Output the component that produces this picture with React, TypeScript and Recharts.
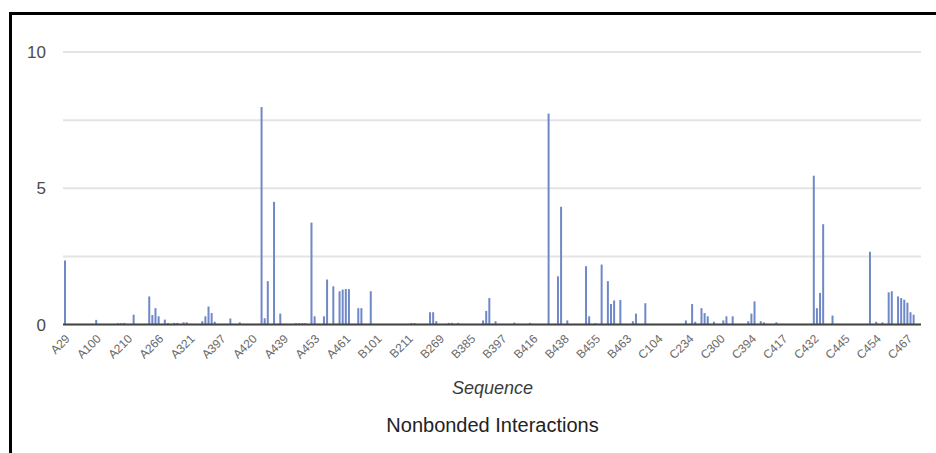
import React from "react";
import { BarChart, Bar, XAxis, YAxis, CartesianGrid } from "recharts";

// Sequence tick labels (one shown every 10 residues)
const tickLabels = [
  "A29", "A100", "A210", "A266", "A321", "A397", "A420", "A439", "A453", "A461",
  "B101", "B211", "B269", "B385", "B397", "B416", "B438", "B455", "B463",
  "C104", "C234", "C300", "C394", "C417", "C432", "C445", "C454", "C467",
];

// Nonbonded interaction counts per residue position
const chainA = [
  2.35, 0, 0, 0, 0, 0, 0, 0, 0, 0,
  0.17, 0, 0, 0, 0, 0, 0, 0.05, 0.05, 0.06,
  0, 0, 0.36, 0, 0, 0, 0, 1.03, 0.35, 0.6,
  0.3, 0, 0.18, 0.05, 0, 0.06, 0.06, 0, 0.08, 0.08,
  0, 0, 0, 0, 0.12, 0.3, 0.66, 0.42, 0.1, 0,
  0, 0, 0, 0.22, 0, 0, 0.08, 0, 0, 0,
  0, 0, 0, 7.98, 0.23, 1.59, 0, 4.5, 0, 0.4,
  0, 0, 0, 0, 0.05, 0.05, 0.05, 0.05, 0, 3.74,
  0.3, 0, 0, 0.3, 1.65, 0, 1.4, 0, 1.22, 1.28,
  1.3, 1.3, 0, 0, 0.6, 0.6, 0, 0, 1.22, 0,
];

const chainB = [
  0, 0, 0, 0, 0, 0, 0, 0, 0, 0,
  0, 0.05, 0.05, 0, 0, 0, 0, 0.45, 0.45, 0.12,
  0, 0, 0, 0.06, 0.06, 0, 0.06, 0, 0, 0,
  0, 0, 0, 0, 0.15, 0.5, 0.97, 0, 0.12, 0,
  0, 0, 0, 0, 0.07, 0, 0, 0, 0, 0.06,
  0, 0, 0, 0, 0, 7.74, 0, 0, 1.77, 4.32,
  0, 0.15, 0, 0, 0, 0, 0, 2.14, 0.3, 0,
  0.05, 0, 2.2, 0, 1.59, 0.75, 0.88, 0, 0.9, 0,
  0, 0, 0.12, 0.4, 0, 0, 0.78, 0, 0, 0,
];

const chainC = [
  0, 0, 0, 0, 0, 0, 0, 0, 0, 0.15,
  0, 0.75, 0.1, 0, 0.6, 0.42, 0.3, 0, 0.1, 0,
  0, 0.15, 0.3, 0, 0.3, 0, 0, 0, 0, 0.12,
  0.4, 0.85, 0, 0.12, 0.08, 0, 0, 0, 0.08, 0,
  0, 0, 0, 0, 0, 0, 0, 0, 0, 0,
  5.46, 0.6, 1.16, 3.68, 0, 0, 0.33, 0, 0, 0,
  0, 0, 0, 0, 0, 0, 0, 0, 2.67, 0,
  0.1, 0, 0.08, 0, 1.18, 1.22, 0, 1.03, 0.97, 0.91,
  0.8, 0.45, 0.36, 0, 0,
];

const yTicks = [0, 2.5, 5, 7.5, 10];

const values = [...chainA, ...chainB, ...chainC];
const data = values.map((v, i) => ({
  seq: i % 10 === 0 ? tickLabels[i / 10] : `${tickLabels[Math.floor(i / 10)]}_${i % 10}`,
  v,
}));

const FONT = "Arial, 'Liberation Sans', sans-serif";

export default function App() {
  return (
    <div
      style={{
        position: "absolute",
        left: 0,
        top: 0,
        width: 936,
        height: 453,
        background: "#fff",
        overflow: "hidden",
        fontFamily: FONT,
      }}
    >
      <BarChart
        width={936}
        height={453}
        data={data}
        margin={{ top: 52, right: 15, bottom: 68.5, left: 0 }}
        barCategoryGap={0}
      >
        <CartesianGrid vertical={false} stroke="#e4e4e4" strokeWidth={2} />
        <YAxis
          type="number"
          domain={[0, 10]}
          ticks={yTicks}
          width={63}
          axisLine={false}
          tickLine={false}
          tickSize={0}
          tickMargin={17}
          tickFormatter={(v: number) => (v % 5 === 0 ? String(v) : "")}
          tick={{ fontSize: 17, fill: "#4a4a4a", fontFamily: FONT }}
        />
        <XAxis
          dataKey="seq"
          interval={9}
          height={60}
          tickLine={false}
          tickSize={0}
          tickMargin={9}
          angle={-45}
          textAnchor="end"
          axisLine={{ stroke: "#444", strokeWidth: 2 }}
          tick={{ fontSize: 12, fill: "#6a6a6a", fontFamily: FONT }}
        />
        <Bar dataKey="v" fill="#6f88c8" barSize={2} isAnimationActive={false} />
      </BarChart>
      <svg
        width={936}
        height={453}
        style={{ position: "absolute", left: 0, top: 0, pointerEvents: "none" }}
      >
        <text
          x={492.5}
          y={394}
          textAnchor="middle"
          fontSize={18}
          fontStyle="italic"
          fill="#3a3a3a"
          fontFamily={FONT}
        >
          Sequence
        </text>
        <text
          x={492.5}
          y={432}
          textAnchor="middle"
          fontSize={20}
          fill="#222"
          fontFamily={FONT}
        >
          Nonbonded Interactions
        </text>
      </svg>
      <div
        style={{
          position: "absolute",
          left: 9,
          top: 12,
          width: 1000,
          height: 500,
          borderTop: "3px solid #000",
          borderLeft: "3px solid #000",
          pointerEvents: "none",
        }}
      />
    </div>
  );
}
